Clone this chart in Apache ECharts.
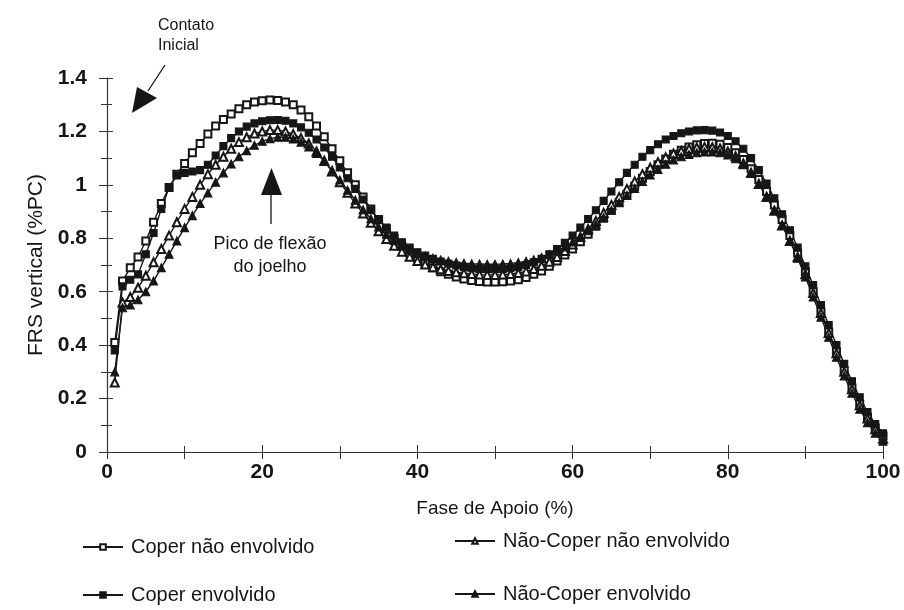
<!DOCTYPE html>
<html>
<head>
<meta charset="utf-8">
<script src="https://cdn.jsdelivr.net/npm/echarts@6/dist/echarts.min.js"></script>
<style>
  html, body { margin: 0; padding: 0; background: #fff; }
  #chart { width: 904px; height: 610px; }
</style>
</head>
<body>
<div id="chart"></div>
<script>
// Fase de apoio (% do ciclo) for each sample
const fase = [1,2,3,4,5,6,7,8,9,10,11,12,13,14,15,16,17,18,19,20,
  21,22,23,24,25,26,27,28,29,30,31,32,33,34,35,36,37,38,39,40,
  41,42,43,44,45,46,47,48,49,50,51,52,53,54,55,56,57,58,59,60,
  61,62,63,64,65,66,67,68,69,70,71,72,73,74,75,76,77,78,79,80,
  81,82,83,84,85,86,87,88,89,90,91,92,93,94,95,96,97,98,99,100];

// FRS vertical (%PC)
const coperNaoEnvolvido = [0.41,0.64,0.69,0.73,0.79,0.86,0.93,0.99,1.04,1.08,
  1.12,1.155,1.19,1.22,1.245,1.265,1.285,1.30,1.31,1.315,
  1.318,1.316,1.31,1.30,1.28,1.255,1.22,1.18,1.135,1.09,
  1.045,1.00,0.955,0.91,0.87,0.835,0.80,0.77,0.745,0.725,
  0.705,0.69,0.675,0.665,0.655,0.648,0.642,0.638,0.636,0.636,
  0.637,0.64,0.645,0.653,0.665,0.678,0.695,0.715,0.737,0.76,
  0.787,0.815,0.845,0.875,0.905,0.935,0.965,0.995,1.025,1.05,
  1.075,1.097,1.115,1.13,1.142,1.15,1.155,1.156,1.152,1.14,
  1.12,1.095,1.06,1.02,0.975,0.925,0.87,0.81,0.745,0.675,
  0.60,0.525,0.45,0.375,0.305,0.24,0.18,0.13,0.09,0.06];

const coperEnvolvido = [0.38,0.62,0.645,0.665,0.74,0.82,0.91,0.99,1.035,1.045,
  1.05,1.055,1.075,1.11,1.145,1.175,1.20,1.218,1.23,1.238,
  1.242,1.243,1.24,1.23,1.215,1.195,1.17,1.14,1.105,1.065,
  1.025,0.985,0.945,0.905,0.87,0.84,0.81,0.785,0.765,0.748,
  0.735,0.723,0.713,0.705,0.698,0.692,0.688,0.685,0.684,0.684,
  0.685,0.688,0.693,0.70,0.71,0.723,0.74,0.76,0.783,0.81,
  0.84,0.872,0.905,0.94,0.975,1.01,1.045,1.075,1.105,1.13,
  1.152,1.17,1.183,1.193,1.20,1.204,1.205,1.203,1.196,1.183,
  1.163,1.135,1.10,1.055,1.005,0.95,0.89,0.83,0.765,0.695,
  0.625,0.55,0.475,0.40,0.33,0.265,0.205,0.15,0.105,0.07];

const naoCoperNaoEnvolvido = [0.26,0.56,0.58,0.615,0.66,0.71,0.76,0.81,0.86,0.91,
  0.955,1.00,1.04,1.075,1.105,1.135,1.16,1.178,1.192,1.20,
  1.205,1.205,1.20,1.19,1.175,1.155,1.125,1.09,1.05,1.01,
  0.97,0.93,0.893,0.858,0.826,0.797,0.772,0.75,0.731,0.715,
  0.702,0.692,0.684,0.678,0.673,0.669,0.666,0.664,0.663,0.663,
  0.664,0.666,0.67,0.676,0.685,0.697,0.712,0.73,0.752,0.777,
  0.805,0.835,0.865,0.895,0.925,0.955,0.985,1.013,1.04,1.064,
  1.085,1.103,1.117,1.127,1.135,1.14,1.142,1.141,1.136,1.125,
  1.107,1.08,1.045,1.003,0.955,0.903,0.848,0.79,0.73,0.665,
  0.595,0.52,0.445,0.37,0.30,0.235,0.175,0.125,0.085,0.05];

const naoCoperEnvolvido = [0.30,0.54,0.55,0.57,0.60,0.64,0.69,0.74,0.79,0.84,
  0.885,0.93,0.97,1.01,1.045,1.078,1.105,1.128,1.148,1.163,
  1.173,1.178,1.178,1.172,1.16,1.142,1.118,1.088,1.055,1.018,
  0.98,0.943,0.907,0.873,0.842,0.815,0.792,0.772,0.756,0.743,
  0.733,0.725,0.719,0.714,0.71,0.707,0.705,0.704,0.703,0.703,
  0.704,0.706,0.709,0.714,0.72,0.728,0.739,0.752,0.768,0.786,
  0.806,0.828,0.852,0.878,0.905,0.933,0.96,0.987,1.013,1.037,
  1.058,1.077,1.093,1.105,1.114,1.12,1.123,1.123,1.12,1.112,
  1.098,1.075,1.043,1.003,0.957,0.905,0.85,0.79,0.725,0.655,
  0.58,0.505,0.43,0.355,0.285,0.22,0.16,0.11,0.07,0.04];

const seriesNames = ['Coper não envolvido', 'Coper envolvido',
                     'Não-Coper não envolvido', 'Não-Coper envolvido'];
const seriesValues = [coperNaoEnvolvido, coperEnvolvido, naoCoperNaoEnvolvido, naoCoperEnvolvido];
const seriesSymbols = ['emptyRect', 'rect', 'emptyTriangle', 'triangle'];
const seriesSymbolSizes = [7, 7, 8, 8];

const INK = '#161616';
const FONT = '"Liberation Sans", Arial, sans-serif';

function pairs(values) {
  return fase.map((x, i) => [x, values[i]]);
}

const series = seriesNames.map((name, k) => ({
  name: name,
  type: 'line',
  data: pairs(seriesValues[k]),
  symbol: seriesSymbols[k],
  symbolSize: seriesSymbolSizes[k],
  showAllSymbol: true,
  lineStyle: { color: INK, width: 1.4 },
  itemStyle: { color: INK, borderColor: INK, borderWidth: 1.1 },
  animation: false,
  z: 3
}));

function legendAt(name, left, top) {
  return {
    data: [name], left: left, top: top, padding: 0,
    itemWidth: 40, itemHeight: 7, itemGap: 0,
    textStyle: { fontFamily: FONT, fontSize: 20, color: INK, padding: [0, 0, 0, 3] }
  };
}

const tickLabel = { fontFamily: FONT, fontSize: 21, color: INK, fontWeight: 'bold' };

const option = {
  backgroundColor: '#fff',
  animation: false,
  grid: { left: 107, right: 21, top: 78, bottom: 158 },
  legend: [
    legendAt(seriesNames[0], 82, 537),
    legendAt(seriesNames[2], 454, 531),
    legendAt(seriesNames[1], 82, 585),
    legendAt(seriesNames[3], 454, 584)
  ],
  xAxis: [{
    type: 'value', min: 0, max: 100, interval: 20,
    name: 'Fase de Apoio (%)', nameLocation: 'middle', nameGap: 47,
    nameTextStyle: { fontFamily: FONT, fontSize: 19, color: INK },
    axisLine: { lineStyle: { color: '#333', width: 1.2 } },
    axisTick: { length: 7, lineStyle: { color: '#333' } },
    minorTick: { show: true, splitNumber: 2, length: 7, lineStyle: { color: '#333' } },
    axisLabel: Object.assign({ margin: 10 }, tickLabel),
    splitLine: { show: false }
  }, {
    type: 'value', min: 0, max: 100, interval: 20, position: 'bottom',
    axisLine: { show: false },
    axisTick: { inside: true, length: 7, lineStyle: { color: '#333' } },
    minorTick: { show: true, splitNumber: 2, length: 6, lineStyle: { color: '#333' } },
    axisLabel: { show: false },
    splitLine: { show: false }
  }],
  yAxis: [{
    type: 'value', min: 0, max: 1.4, interval: 0.2,
    name: 'FRS vertical (%PC)', nameLocation: 'middle', nameGap: 58,
    nameTextStyle: { fontFamily: FONT, fontSize: 21, color: INK },
    axisLine: { show: true, lineStyle: { color: '#333', width: 1.2 } },
    axisTick: { show: true, length: 8, lineStyle: { color: '#333' } },
    minorTick: { show: true, splitNumber: 2, length: 6, lineStyle: { color: '#333' } },
    axisLabel: Object.assign({ margin: 20 }, tickLabel),
    splitLine: { show: false }
  }, {
    type: 'value', min: 0, max: 1.4, interval: 0.2, position: 'left',
    axisLine: { show: false },
    axisTick: { show: true, inside: true, length: 6, lineStyle: { color: '#333' } },
    minorTick: { show: true, splitNumber: 2, length: 5, lineStyle: { color: '#333' } },
    axisLabel: { show: false },
    splitLine: { show: false }
  }],
  series: series,
  graphic: [
    // "Contato Inicial" note with its arrow
    { type: 'text', left: 158, top: 16,
      style: { text: 'Contato\nInicial', font: '16px ' + FONT, fill: INK, lineHeight: 20 } },
    { type: 'line', shape: { x1: 165, y1: 65, x2: 148, y2: 91 },
      style: { stroke: INK, lineWidth: 1.3 } },
    { type: 'polygon', shape: { points: [[132, 113], [137, 87], [157, 98]] },
      style: { fill: INK } },
    // knee flexion peak note with its arrow
    { type: 'text', x: 270, y: 233,
      style: { text: 'Pico de flexão\ndo joelho', font: '18px ' + FONT, fill: INK,
               align: 'center', lineHeight: 23 } },
    { type: 'line', shape: { x1: 271, y1: 224, x2: 271, y2: 192 },
      style: { stroke: INK, lineWidth: 1.3 } },
    { type: 'polygon', shape: { points: [[271.5, 168], [261, 195], [282, 195]] },
      style: { fill: INK } }
  ]
};

const chart = echarts.init(document.getElementById('chart'), null, { renderer: 'canvas' });
chart.setOption(option);
</script>
</body>
</html>
